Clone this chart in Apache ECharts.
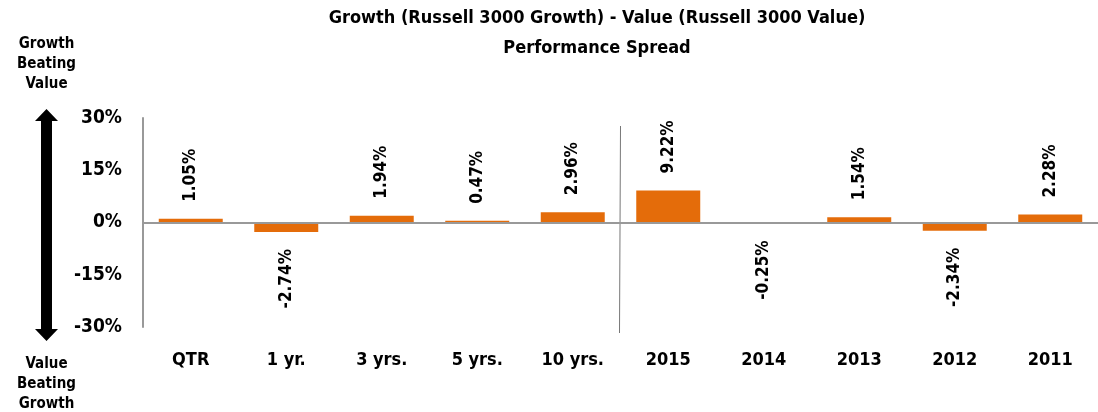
<!DOCTYPE html>
<html>
<head>
<meta charset="utf-8">
<script src="https://cdn.jsdelivr.net/npm/echarts@6/dist/echarts.min.js"></script>
<style>
  html, body { margin: 0; padding: 0; background: #fff; }
  #main { width: 1098px; height: 412px; }
</style>
</head>
<body>
<div id="main"></div>
<script>
var categories = ['QTR', '1 yr.', '3 yrs.', '5 yrs.', '10 yrs.', '2015', '2014', '2013', '2012', '2011']
var spread = [1.05, -2.74, 1.94, 0.47, 2.96, 9.22, -0.25, 1.54, -2.34, 2.28]
var yTicks = [-30, -15, 0, 15, 30]

var font = '"DejaVu Sans Condensed", "Liberation Sans Narrow", sans-serif'

var chart = echarts.init(document.getElementById('main'))

var barData = spread.map(function (v) {
  var item = { value: v }
  if (v < 0) item.label = { position: 'bottom', align: 'right' }
  return item
})

// double arrow on the left
var ax = 46.5, aTop = 109, aBot = 341, head = 12, hw = 11.5, sw = 5.5
var arrow = [
  [ax, aTop], [ax + hw, aTop + head], [ax + sw, aTop + head], [ax + sw, aBot - head],
  [ax + hw, aBot - head], [ax, aBot], [ax - hw, aBot - head], [ax - sw, aBot - head],
  [ax - sw, aTop + head], [ax - hw, aTop + head]
]

var option = {
  animation: false,
  title: {
    text: 'Growth (Russell 3000 Growth) - Value (Russell 3000 Value)\nPerformance Spread',
    left: 597,
    top: 3,
    padding: 0,
    textAlign: 'center',
    textStyle: { fontFamily: font, fontWeight: 'bold', fontSize: 18, lineHeight: 30, color: '#000' }
  },
  grid: { left: 143, right: 0, top: 118, bottom: 85 },
  xAxis: {
    type: 'category',
    data: categories,
    axisLine: { show: false },
    axisTick: { show: false },
    axisLabel: { margin: 24, fontFamily: font, fontWeight: 'bold', fontSize: 18, color: '#000' }
  },
  yAxis: {
    type: 'value',
    min: yTicks[0],
    max: yTicks[yTicks.length - 1],
    interval: 15,
    axisLine: { show: true, lineStyle: { color: '#999', width: 2 } },
    axisTick: { show: false },
    splitLine: { show: false },
    axisLabel: { margin: 21, formatter: '{value}%', fontFamily: font, fontWeight: 'bold', fontSize: 19, color: '#000' }
  },
  series: [{
    type: 'bar',
    data: barData,
    barCategoryGap: '33%',
    itemStyle: { color: '#E46C0A' },
    label: {
      show: true,
      position: 'top',
      rotate: 90,
      align: 'left',
      verticalAlign: 'middle',
      distance: 17,
      fontFamily: font,
      fontWeight: 'bold',
      fontSize: 17,
      color: '#000',
      formatter: function (p) { return p.value.toFixed(2) + '%' }
    },
    markLine: {
      silent: true,
      symbol: 'none',
      label: { show: false },
      lineStyle: { color: '#999', width: 2, type: 'solid' },
      data: [{ yAxis: 0 }]
    },
    z: 3
  }],
  graphic: [
    {
      type: 'text', x: ax, y: 34,
      style: {
        text: 'Growth\nBeating\nValue', align: 'center',
        font: 'bold 15px ' + font, lineHeight: 20, fill: '#000'
      }
    },
    {
      type: 'text', x: ax, y: 354,
      style: {
        text: 'Value\nBeating\nGrowth', align: 'center',
        font: 'bold 15px ' + font, lineHeight: 20, fill: '#000'
      }
    },
    {
      type: 'polygon',
      shape: { points: arrow },
      style: { fill: '#000' }
    }
  ]
}

chart.setOption(option)

// divider between the trailing periods and the calendar years
var xa = chart.convertToPixel({ xAxisIndex: 0 }, '10 yrs.')
var xb = chart.convertToPixel({ xAxisIndex: 0 }, '2015')
var xm = (xa + xb) / 2
chart.setOption({
  graphic: {
    elements: [{
      id: 'divider',
      type: 'line',
      shape: { x1: xm, y1: 126, x2: xm - 1, y2: 333 },
      style: { stroke: '#777', lineWidth: 1 }
    }]
  }
})
</script>
</body>
</html>
